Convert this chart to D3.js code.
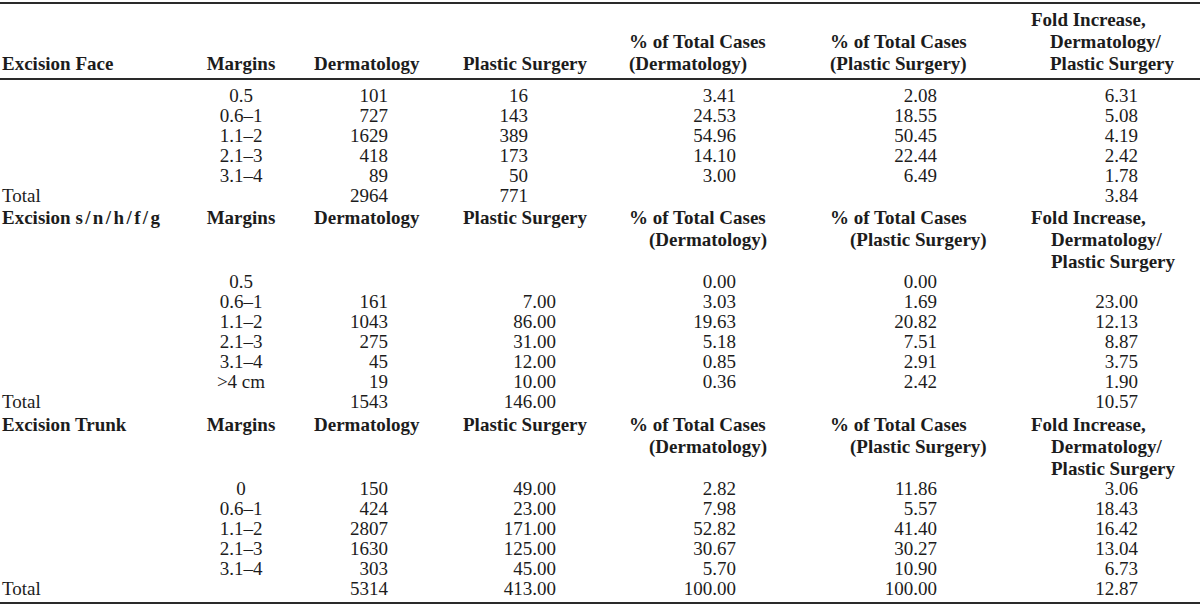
<!DOCTYPE html>
<html>
<head>
<meta charset="utf-8">
<script src="https://cdn.jsdelivr.net/npm/d3@7"></script>
<style>
  html, body { margin: 0; padding: 0; background: #fff; }
  svg { display: block; }
  text { font-family: "Liberation Serif", "Times New Roman", serif; fill: #1c1c1c; }
  .bold { font-weight: bold; }
</style>
</head>
<body>
<svg id="chart" width="1200" height="610"></svg>
<script>
// ---------- DATA ----------
const sectionTitles = ["Excision Face", "Excision s/n/h/f/g", "Excision Trunk"];
const columnHeaders = [
  ["Margins"],
  ["Dermatology"],
  ["Plastic Surgery"],
  ["% of Total Cases", "(Dermatology)"],
  ["% of Total Cases", "(Plastic Surgery)"],
  ["Fold Increase,", "Dermatology/", "Plastic Surgery"]
];
const totalLabel = "Total";

// Excision Face
const faceMargins = ["0.5", "0.6–1", "1.1–2", "2.1–3", "3.1–4"];
const faceDerm = [101, 727, 1629, 418, 89];
const facePlastic = [16, 143, 389, 173, 50];
const facePctDerm = [3.41, 24.53, 54.96, 14.10, 3.00];
const facePctPlastic = [2.08, 18.55, 50.45, 22.44, 6.49];
const faceFold = [6.31, 5.08, 4.19, 2.42, 1.78];
const faceTotals = [2964, 771, null, null, 3.84];

// Excision s/n/h/f/g
const snhfgMargins = ["0.5", "0.6–1", "1.1–2", "2.1–3", "3.1–4", ">4 cm"];
const snhfgDerm = [null, 161, 1043, 275, 45, 19];
const snhfgPlastic = [null, 7.00, 86.00, 31.00, 12.00, 10.00];
const snhfgPctDerm = [0.00, 3.03, 19.63, 5.18, 0.85, 0.36];
const snhfgPctPlastic = [0.00, 1.69, 20.82, 7.51, 2.91, 2.42];
const snhfgFold = [null, 23.00, 12.13, 8.87, 3.75, 1.90];
const snhfgTotals = [1543, 146.00, null, null, 10.57];

// Excision Trunk
const trunkMargins = ["0", "0.6–1", "1.1–2", "2.1–3", "3.1–4"];
const trunkDerm = [150, 424, 2807, 1630, 303];
const trunkPlastic = [49.00, 23.00, 171.00, 125.00, 45.00];
const trunkPctDerm = [2.82, 7.98, 52.82, 30.67, 5.70];
const trunkPctPlastic = [11.86, 5.57, 41.40, 30.27, 10.90];
const trunkFold = [3.06, 18.43, 16.42, 13.04, 6.73];
const trunkTotals = [5314, 413.00, 100.00, 100.00, 12.87];

// ---------- TABLE ASSEMBLY ----------
const sections = [
  { title: sectionTitles[0], margins: faceMargins,
    cols: [faceDerm, facePlastic, facePctDerm, facePctPlastic, faceFold],
    totals: faceTotals, plasticDecimals: false, headerBottomAligned: true },
  { title: sectionTitles[1], margins: snhfgMargins,
    cols: [snhfgDerm, snhfgPlastic, snhfgPctDerm, snhfgPctPlastic, snhfgFold],
    totals: snhfgTotals, plasticDecimals: true, headerBottomAligned: false },
  { title: sectionTitles[2], margins: trunkMargins,
    cols: [trunkDerm, trunkPlastic, trunkPctDerm, trunkPctPlastic, trunkFold],
    totals: trunkTotals, plasticDecimals: true, headerBottomAligned: false }
];

// ---------- LAYOUT ----------
const W = 1200, H = 610;
const svg = d3.select("#chart");
const FS = 19;
const headerLineH = 22;
const dataLineH = 20;

// x positions: header left edges and value right edges
const x = d3.scaleOrdinal()
  .domain(["title", "margins", "derm", "plastic", "pctDerm", "pctPlastic", "fold"])
  .range([2, 241, 314, 463, 629, 830, 1031]);
const valueRight = {
  derm: 388, plasticInt: 528, plasticDec: 556,
  pctDerm: 736, pctPlastic: 937, fold: 1138
};
const colKeys = ["derm", "plastic", "pctDerm", "pctPlastic", "fold"];
const fmtInt = d3.format("d");
const fmt2 = d3.format(".2f");

function txt(str, xx, yy, anchor, bold) {
  return svg.append("text")
    .attr("x", xx).attr("y", yy)
    .attr("text-anchor", anchor)
    .attr("class", bold ? "bold" : null)
    .style("font-size", FS + "px")
    .text(str);
}

function titleText(str, xx, yy) {
  const t = svg.append("text")
    .attr("x", xx).attr("y", yy)
    .attr("class", "bold")
    .style("font-size", FS + "px");
  const sp = str.indexOf(" ");
  const first = str.slice(0, sp + 1), rest = str.slice(sp + 1);
  t.append("tspan").text(first);
  const r = t.append("tspan").text(rest);
  if (rest.indexOf("/") >= 0) r.style("letter-spacing", "2.4px");
  return t;
}

function rule(yy) {
  svg.append("line")
    .attr("x1", 0).attr("x2", W)
    .attr("y1", yy).attr("y2", yy)
    .attr("stroke", "#2a2a2a").attr("stroke-width", 2);
}

// y-baselines for each section's header lines and first data row
const headerStart = [26, 224, 431];
const dataStart = [102, 288, 495];

rule(3);

sections.forEach((sec, si) => {
  const hy = headerStart[si];
  const headerKeys = ["margins", "derm", "plastic", "pctDerm", "pctPlastic", "fold"];
  const titleY = sec.headerBottomAligned ? hy + 2 * headerLineH : hy;
  titleText(sec.title, x("title"), titleY);
  if (sec.headerBottomAligned) {
    const lastY = hy + 2 * headerLineH;
    columnHeaders.forEach((lines, ci) => {
      const key = headerKeys[ci];
      const firstY = lastY - (lines.length - 1) * headerLineH;
      lines.forEach((ln, li) => {
        const indent = (key === "fold" && li > 0) ? 19 : 0;
        if (key === "margins") txt(ln, x(key), firstY + li * headerLineH, "middle", true);
        else txt(ln, x(key) + indent, firstY + li * headerLineH, "start", true);
      });
    });
    rule(lastY + 9);
  } else {
    columnHeaders.forEach((lines, ci) => {
      const key = headerKeys[ci];
      lines.forEach((ln, li) => {
        const indent = li > 0 ? 20 : 0;
        if (key === "margins") txt(ln, x(key), hy + li * headerLineH, "middle", true);
        else txt(ln, x(key) + indent, hy + li * headerLineH, "start", true);
      });
    });
  }

  function valueText(v, key) {
    if (key === "derm") return [fmtInt(v), valueRight.derm];
    if (key === "plastic") return sec.plasticDecimals
      ? [fmt2(v), valueRight.plasticDec] : [fmtInt(v), valueRight.plasticInt];
    return [fmt2(v), valueRight[key]];
  }

  const y0 = dataStart[si];
  sec.margins.forEach((m, ri) => {
    const yy = y0 + ri * dataLineH;
    txt(m, x("margins"), yy, "middle", false);
    sec.cols.forEach((arr, ci) => {
      const v = arr[ri];
      if (v === null || v === undefined) return;
      const [str, xr] = valueText(v, colKeys[ci]);
      txt(str, xr, yy, "end", false);
    });
  });
  const ty = y0 + sec.margins.length * dataLineH;
  txt(totalLabel, x("title"), ty, "start", false);
  sec.totals.forEach((v, ci) => {
    if (v === null) return;
    const [str, xr] = valueText(v, colKeys[ci]);
    txt(str, xr, ty, "end", false);
  });
});

rule(603);
</script>
</body>
</html>
